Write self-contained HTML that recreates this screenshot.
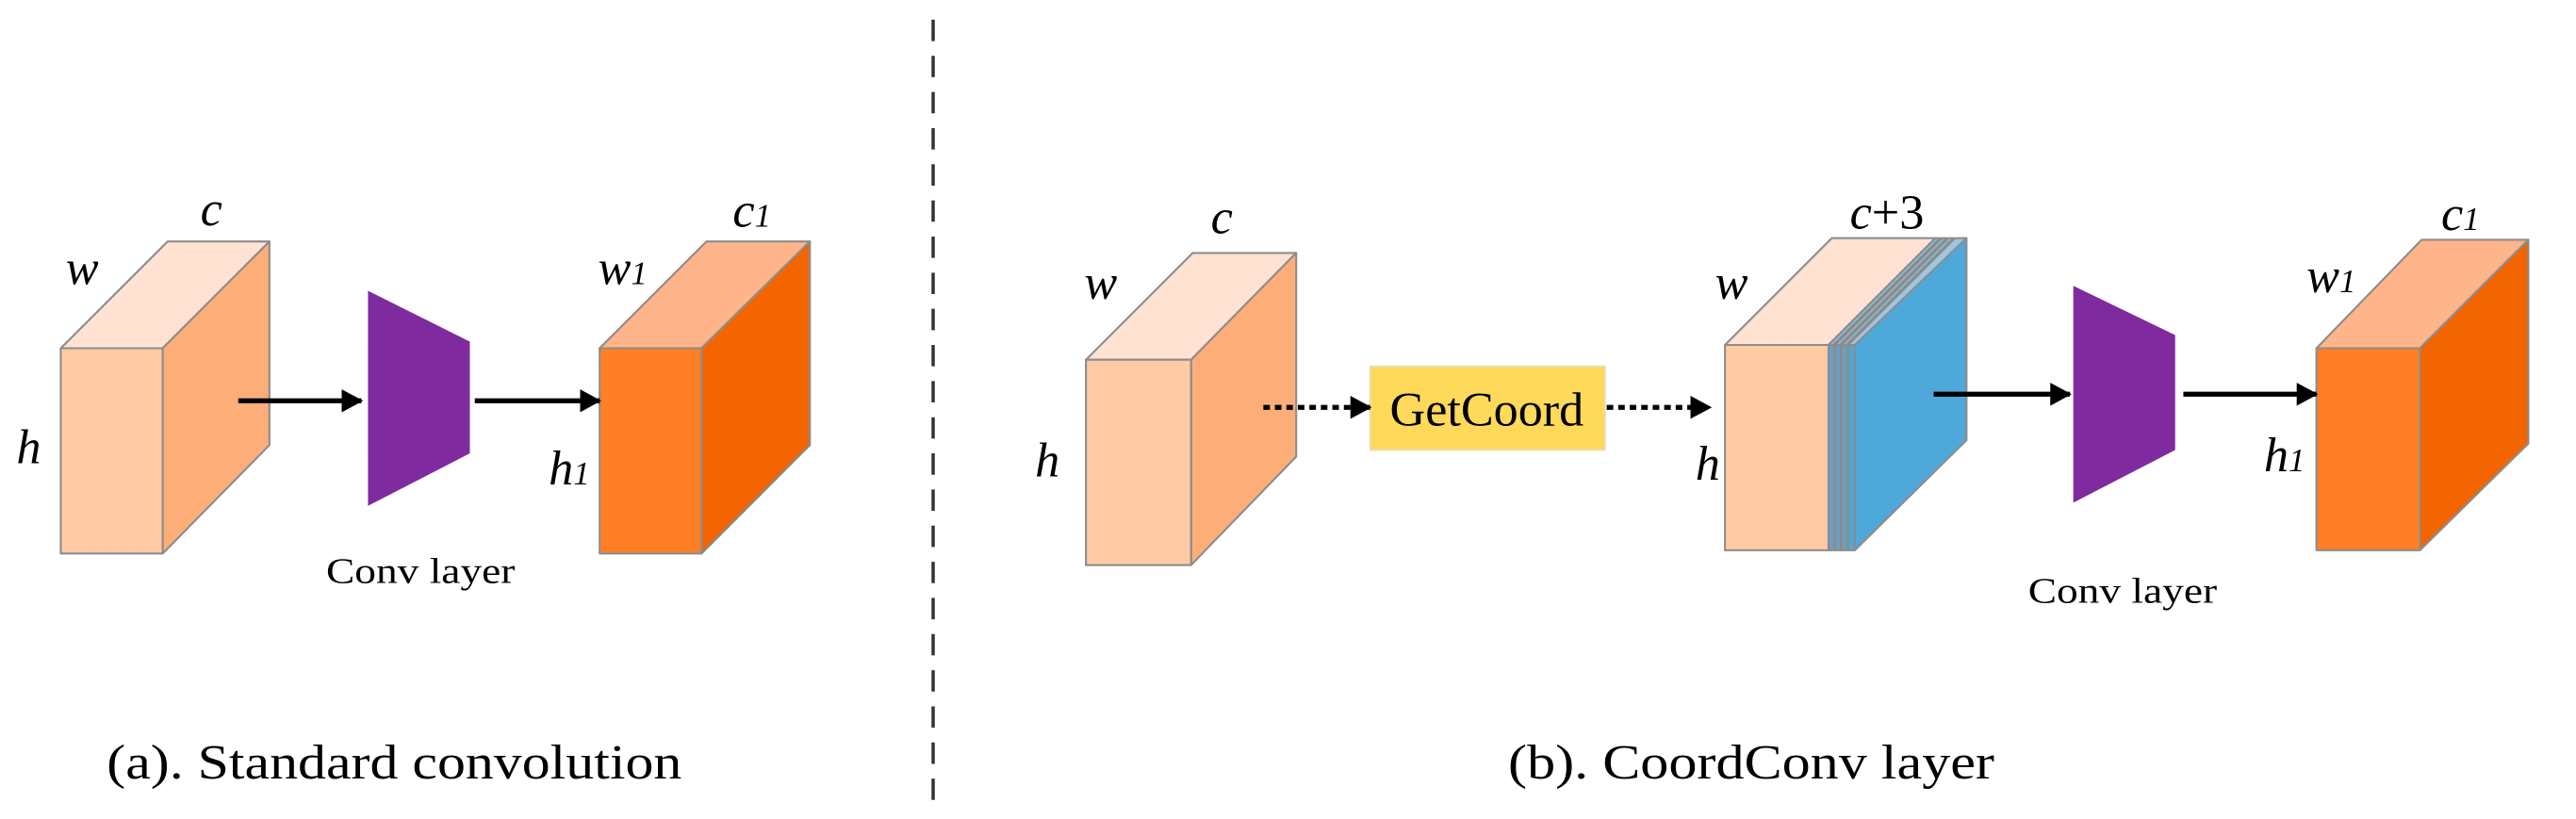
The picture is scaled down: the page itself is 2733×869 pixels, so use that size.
<!DOCTYPE html>
<html><head><meta charset="utf-8"><style>
html,body{margin:0;padding:0;background:#fff;}
svg{display:block;}
text,tspan{font-family:"Liberation Serif",serif;fill:#000;}
.it{font-style:italic;font-size:30px;}
</style></head><body>
<svg width="2733" height="869" viewBox="0 0 1568 498.6" preserveAspectRatio="none" xmlns="http://www.w3.org/2000/svg">
<defs>
<marker id="ah" markerWidth="13" markerHeight="14" refX="12" refY="7" orient="auto" markerUnits="userSpaceOnUse"><path d="M0,0 L13,7 L0,14 z" fill="#000"/></marker>
</defs>
<g stroke="#8c8c8c" stroke-width="1.2" stroke-linejoin="round">
<polygon points="37,212 102,147 164,147 99,212" fill="#FFE2D2"/>
<polygon points="99,212 164,147 164,271 99,337" fill="#FDAE78"/>
<rect x="37" y="212" width="62" height="125" fill="#FFCBA4"/>
<polygon points="365,212 430,147 493,147 427,212" fill="#FFB489"/>
<polygon points="427,212 493,147 493,271 427,337" fill="#F26500"/>
<rect x="365" y="212" width="62" height="125" fill="#FF7F27"/>
<polygon points="661,219 726,154 789,154 725,219" fill="#FFE2D2"/>
<polygon points="725,219 789,154 789,278 725,344" fill="#FDAE78"/>
<rect x="661" y="219" width="64" height="125" fill="#FFCBA4"/>
<polygon points="1050,210 1115,145 1178,145 1113,210" fill="#FFE2D2"/>
<polygon points="1113,210 1178,145 1181,145 1116,210" fill="#8fb8d8"/>
<polygon points="1117,210 1182,145 1185,145 1120,210" fill="#8fb8d8"/>
<polygon points="1121,210 1186,145 1189,145 1124,210" fill="#8fb8d8"/>
<polygon points="1125,210 1190,145 1197,145 1130,210" fill="#9ec6e3"/>
<rect x="1113" y="210" width="3.5" height="125" fill="#6a9ec6"/>
<rect x="1117" y="210" width="3.5" height="125" fill="#6a9ec6"/>
<rect x="1121" y="210" width="3.5" height="125" fill="#6a9ec6"/>
<rect x="1125" y="210" width="4" height="125" fill="#4fa7d9"/>
<polygon points="1129,210 1197,145 1197,268 1129,335" fill="#4FA8DA"/>
<rect x="1050" y="210" width="63" height="125" fill="#FFCBA4"/>
<polygon points="1410,212 1474,146 1539,146 1473,212" fill="#FFB489"/>
<polygon points="1473,212 1539,146 1539,270 1473,335" fill="#F26500"/>
<rect x="1410" y="212" width="63" height="123" fill="#FF7F27"/>
</g>
<polygon points="224,177 286,208 286,276 224,308" fill="#7F2A9E"/>
<polygon points="1262,174 1324,204 1324,274 1262,306" fill="#7F2A9E"/>
<rect x="834" y="223" width="143" height="51" fill="#FFD95A" stroke="#e8e0c0" stroke-width="1"/>
<text x="905" y="259" font-size="29" text-anchor="middle" textLength="118" lengthAdjust="spacingAndGlyphs">GetCoord</text>
<g stroke="#000" stroke-width="3" fill="none">
<line x1="145" y1="244" x2="220" y2="244" marker-end="url(#ah)"/>
<line x1="289" y1="244" x2="365" y2="244" marker-end="url(#ah)"/>
<line x1="1177" y1="240" x2="1260" y2="240" marker-end="url(#ah)"/>
<line x1="1329" y1="240" x2="1410" y2="240" marker-end="url(#ah)"/>
<line x1="769" y1="248" x2="834" y2="248" stroke-dasharray="4,3" marker-end="url(#ah)"/>
<line x1="978" y1="248" x2="1041" y2="248" stroke-dasharray="4,3" marker-end="url(#ah)"/>
</g>
<line x1="568" y1="12" x2="568" y2="492" stroke="#333" stroke-width="2" stroke-dasharray="13,9"/>
<text class="it" x="122" y="137">c</text>
<text class="it" x="40" y="173">w</text>
<text class="it" x="10" y="282">h</text>
<text class="it" x="446" y="138">c<tspan font-size="20">1</tspan></text>
<text class="it" x="364" y="173">w<tspan font-size="20">1</tspan></text>
<text class="it" x="334" y="295">h<tspan font-size="20">1</tspan></text>
<text class="it" x="737" y="142">c</text>
<text class="it" x="660" y="182">w</text>
<text class="it" x="630" y="290">h</text>
<text class="it" x="1044" y="182">w</text>
<text class="it" x="1032" y="292">h</text>
<text x="1126" y="139" font-size="30" font-family="Liberation Serif, serif"><tspan font-style="italic">c</tspan><tspan font-style="normal">+3</tspan></text>
<text class="it" x="1486" y="140">c<tspan font-size="20">1</tspan></text>
<text class="it" x="1404" y="178">w<tspan font-size="20">1</tspan></text>
<text class="it" x="1378" y="287">h<tspan font-size="20">1</tspan></text>
<text x="256" y="355" font-size="22" text-anchor="middle" textLength="115" lengthAdjust="spacingAndGlyphs">Conv layer</text>
<text x="1292" y="367" font-size="22" text-anchor="middle" textLength="115" lengthAdjust="spacingAndGlyphs">Conv layer</text>
<text x="65" y="474" font-size="30" textLength="350" lengthAdjust="spacingAndGlyphs">(a). Standard convolution</text>
<text x="918" y="474" font-size="30" textLength="296" lengthAdjust="spacingAndGlyphs">(b). CoordConv layer</text>
</svg>
</body></html>
